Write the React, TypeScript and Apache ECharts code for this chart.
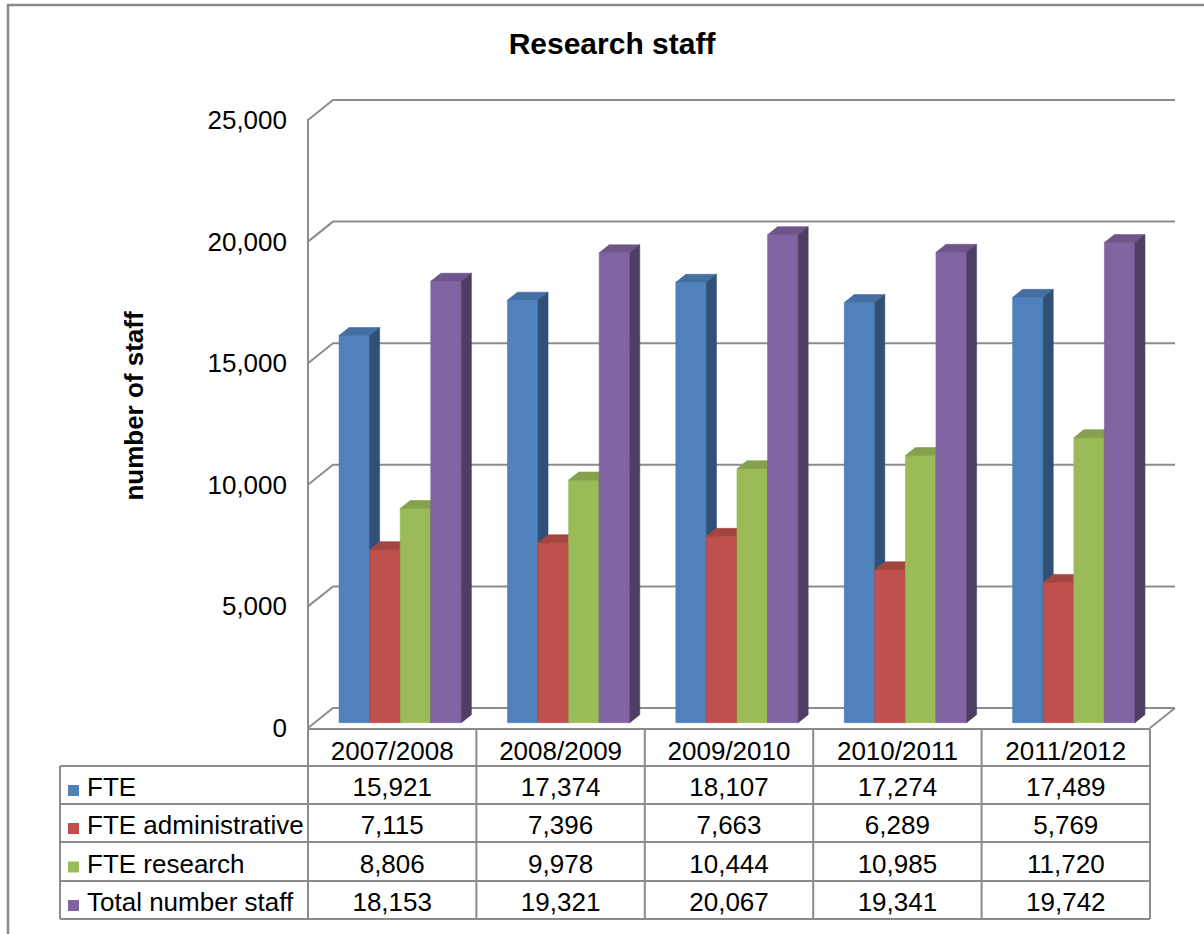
import React, { useEffect, useRef } from "react";
import * as echarts from "echarts";

// ---- data ----
const categories = ["2007/2008", "2008/2009", "2009/2010", "2010/2011", "2011/2012"];
const seriesNames = ["FTE", "FTE administrative", "FTE research", "Total number staff"];
const fte = [15921, 17374, 18107, 17274, 17489];
const fteAdministrative = [7115, 7396, 7663, 6289, 5769];
const fteResearch = [8806, 9978, 10444, 10985, 11720];
const totalStaff = [18153, 19321, 20067, 19341, 19742];
const yTicks = [0, 5000, 10000, 15000, 20000, 25000];

const seriesValues = [fte, fteAdministrative, fteResearch, totalStaff];
const colors = ["#4F81BD", "#C0504D", "#9BBB59", "#8064A2"];

// ---- layout ----
const W = 1204;
const H = 934;
const PLOT_LEFT = 308;
const PLOT_RIGHT = 1150;
const PLOT_TOP = 120;
const PLOT_BOTTOM = 728;
const WALL = [25, -20]; // offset of the back wall from the front plane
const BAR_SHIFT = [8, -5.3]; // bars stand a little behind the front plane
const BAR_DEPTH = [10, -8];
const BAR_FRACTION = 0.1816; // share of a category band taken by one bar
const LINE = "#8c8c8c";
const FONT = "'Liberation Sans', Arial, sans-serif";

const TABLE_LEFT = 60;
const HEADER_TOP = 729;
const ROW_LINES = [766, 804, 842, 881, 919];

function shade(hex: string, f: number) {
  const n = parseInt(hex.slice(1), 16);
  const r = Math.round(((n >> 16) & 255) * f);
  const g = Math.round(((n >> 8) & 255) * f);
  const b = Math.round((n & 255) * f);
  return `rgb(${r},${g},${b})`;
}

const fmt = (v: number) => v.toLocaleString("en-US");

export default function App() {
  const ref = useRef<HTMLDivElement>(null);

  useEffect(() => {
    if (!ref.current) return;
    const chart = echarts.init(ref.current, null, { renderer: "svg" });
    const bandW = (PLOT_RIGHT - PLOT_LEFT) / categories.length;

    // wall gridlines: diagonal on the side wall, horizontal on the back wall
    const gridSeries = {
      type: "custom",
      silent: true,
      z: 1,
      data: yTicks.map((v) => [0, v]),
      encode: { x: 0, y: 1 },
      renderItem: (params: any, api: any) => {
        const cs = params.coordSys;
        const v = api.value(1);
        const y = api.coord([0, v])[1];
        const x0 = cs.x;
        const x1 = cs.x + cs.width;
        const children: any[] = [
          {
            type: "polyline",
            shape: { points: [[x0, y], [x0 + WALL[0], y + WALL[1]], [x1 + WALL[0], y + WALL[1]]] },
            style: { stroke: LINE, lineWidth: 2, fill: null },
          },
        ];
        if (v === 0) {
          children.push({
            type: "line",
            shape: { x1: x1, y1: y, x2: x1 + WALL[0], y2: y + WALL[1] },
            style: { stroke: LINE, lineWidth: 2 },
          });
        }
        return { type: "group", children };
      },
    };

    const barSeries = seriesValues.map((vals, si) => ({
      type: "custom",
      name: seriesNames[si],
      z: 2,
      data: vals.map((v, i) => [i, v]),
      encode: { x: 0, y: 1 },
      renderItem: (params: any, api: any) => {
        const ci = api.value(0);
        const v = api.value(1);
        const [cx, yTop] = api.coord([ci, v]);
        const yBase = api.coord([ci, 0])[1];
        const band = api.size([1, 0])[0];
        const w = band * BAR_FRACTION;
        const left = cx - 2 * w + si * w + BAR_SHIFT[0];
        const top = yTop + BAR_SHIFT[1];
        const base = yBase + BAR_SHIFT[1];
        const [dx, dy] = BAR_DEPTH;
        const front = colors[si];
        const topC = shade(front, 0.86);
        const sideC = shade(front, 0.62);
        return {
          type: "group",
          children: [
            {
              type: "rect",
              shape: { x: left, y: top, width: w, height: base - top },
              style: { fill: front, stroke: front, lineWidth: 0.6 },
            },
            {
              type: "polygon",
              shape: { points: [[left, top], [left + w, top], [left + w + dx, top + dy], [left + dx, top + dy]] },
              style: { fill: topC, stroke: topC, lineWidth: 0.6 },
            },
            {
              type: "polygon",
              shape: { points: [[left + w, top], [left + w + dx, top + dy], [left + w + dx, base + dy], [left + w, base]] },
              style: { fill: sideC, stroke: sideC, lineWidth: 0.6 },
            },
          ],
        };
      },
    }));

    // data table values, one column per category
    const rowCenters = ROW_LINES.slice(0, 4).map((t, i) => (t + ROW_LINES[i + 1]) / 2 + 2);
    const tableSeries = {
      type: "custom",
      silent: true,
      z: 3,
      data: categories.map((_, i) => [i, fte[i], fteAdministrative[i], fteResearch[i], totalStaff[i]]),
      encode: { x: 0 },
      renderItem: (params: any, api: any) => {
        const ci = api.value(0);
        const x = api.coord([ci, 0])[0];
        return {
          type: "group",
          children: [1, 2, 3, 4].map((d, r) => ({
            type: "text",
            x,
            y: rowCenters[r],
            style: {
              text: fmt(api.value(d)),
              fontSize: 26,
              fontFamily: FONT,
              fill: "#000",
              align: "center",
              verticalAlign: "middle",
            },
          })),
        };
      },
    };

    const graphics: any[] = [];
    // outer chart frame
    graphics.push({
      type: "rect",
      shape: { x: 8, y: 5, width: 1400, height: 1100 },
      style: { fill: null, stroke: "#8a8a8a", lineWidth: 2.5 },
      silent: true,
    });
    // table grid
    const tl = (x1: number, y1: number, x2: number, y2: number) =>
      graphics.push({
        type: "line",
        shape: { x1, y1, x2, y2 },
        style: { stroke: LINE, lineWidth: 2 },
        silent: true,
        z: 10,
      });
    tl(PLOT_LEFT, HEADER_TOP, PLOT_RIGHT, HEADER_TOP);
    ROW_LINES.forEach((y) => tl(TABLE_LEFT, y, PLOT_RIGHT, y));
    tl(TABLE_LEFT, ROW_LINES[0], TABLE_LEFT, ROW_LINES[4]);
    for (let k = 0; k <= categories.length; k++) {
      const x = PLOT_LEFT + k * bandW;
      tl(x, HEADER_TOP, x, ROW_LINES[4]);
    }
    // row labels with colour keys
    seriesNames.forEach((name, r) => {
      const cy = (ROW_LINES[r] + ROW_LINES[r + 1]) / 2 + 2;
      graphics.push({
        type: "rect",
        shape: { x: 68, y: cy - 2, width: 11, height: 11 },
        style: { fill: colors[r] },
        silent: true,
      });
      graphics.push({
        type: "text",
        x: 87,
        y: cy,
        style: { text: name, fontSize: 26, fontFamily: FONT, fill: "#000", align: "left", verticalAlign: "middle" },
        silent: true,
      });
    });
    // axis title
    graphics.push({
      type: "text",
      x: 134,
      y: 406,
      rotation: Math.PI / 2,
      style: {
        text: "number of staff",
        fontSize: 26,
        fontWeight: "bold",
        fontFamily: FONT,
        fill: "#000",
        align: "center",
        verticalAlign: "middle",
      },
      silent: true,
    });

    chart.setOption({
      animation: false,
      backgroundColor: "#fff",
      title: {
        text: "Research staff",
        left: 612,
        top: 28,
        textAlign: "center",
        padding: 0,
        textStyle: { fontSize: 30, fontWeight: "bold", fontFamily: FONT, color: "#000" },
      },
      grid: {
        left: PLOT_LEFT,
        right: W - PLOT_RIGHT,
        top: PLOT_TOP,
        bottom: H - PLOT_BOTTOM,
        containLabel: false,
      },
      xAxis: {
        type: "category",
        data: categories,
        boundaryGap: true,
        axisLine: { show: false },
        axisTick: { show: false },
        axisLabel: { fontSize: 26, fontFamily: FONT, color: "#000", margin: 10 },
        splitLine: { show: false },
      },
      yAxis: {
        type: "value",
        min: 0,
        max: 25000,
        interval: 5000,
        axisLine: { show: true, lineStyle: { color: LINE, width: 2 } },
        axisTick: { show: false },
        splitLine: { show: false },
        axisLabel: {
          fontSize: 26,
          fontFamily: FONT,
          color: "#000",
          margin: 21,
          formatter: (v: number) => fmt(v),
        },
      },
      graphic: graphics,
      series: [gridSeries, ...barSeries, tableSeries],
    } as any);

    return () => chart.dispose();
  }, []);

  return (
    <div
      ref={ref}
      style={{ position: "fixed", left: 0, top: 0, width: W, height: H, background: "#fff" }}
    />
  );
}
